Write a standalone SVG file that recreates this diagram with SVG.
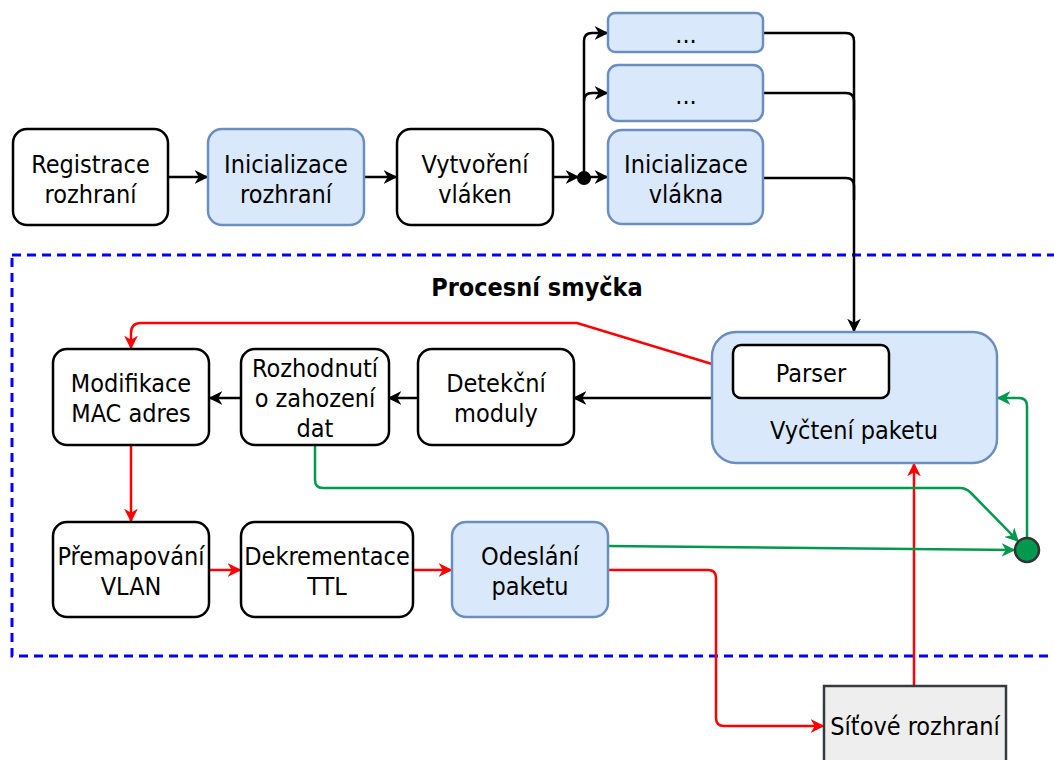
<svg xmlns="http://www.w3.org/2000/svg" width="1054" height="760" viewBox="0 0 1054 760">
  <defs>
    <style>
      text { font-family: "DejaVu Sans Condensed", "DejaVu Sans", sans-serif; font-stretch: condensed; font-size: 25px; fill: #000; text-anchor: middle; }
      .title { font-weight: bold; font-size: 25px; }
      .plain { fill: #ffffff; stroke: #000000; stroke-width: 2.5; }
      .blue { fill: #dae8fc; stroke: #6c8ebf; stroke-width: 2.5; }
      .iface { fill: #eeeeee; stroke: #36393d; stroke-width: 2.5; }
      .k { fill: none; stroke: #000000; stroke-width: 2.5; }
      .r { fill: none; stroke: #ff0000; stroke-width: 2.5; }
      .g { fill: none; stroke: #00994d; stroke-width: 2.5; }
    </style>
    <marker id="ak" viewBox="0 0 10 10" refX="9" refY="5" markerWidth="5.5" markerHeight="5.5" markerUnits="strokeWidth" orient="auto">
      <path d="M0,0 L10,5 L0,10 L3,5 Z" fill="#000000"/>
    </marker>
    <marker id="ar" viewBox="0 0 10 10" refX="9" refY="5" markerWidth="5.5" markerHeight="5.5" markerUnits="strokeWidth" orient="auto">
      <path d="M0,0 L10,5 L0,10 L3,5 Z" fill="#ff0000"/>
    </marker>
    <marker id="ag" viewBox="0 0 10 10" refX="9" refY="5" markerWidth="5.5" markerHeight="5.5" markerUnits="strokeWidth" orient="auto">
      <path d="M0,0 L10,5 L0,10 L3,5 Z" fill="#00994d"/>
    </marker>
  </defs>

  <rect width="1054" height="760" fill="#ffffff"/>

  <!-- processing loop frame -->
  <g id="loop-frame">
    <rect x="12" y="255" width="1060" height="401" fill="none" stroke="#0000ff" stroke-width="3" stroke-dasharray="9 6"/>
    <text class="title" x="537" y="296">Procesní smyčka</text>
  </g>

  <!-- connectors -->
  <g id="connectors">
    <!-- startup chain -->
    <path class="k" d="M168,177 L207,177" marker-end="url(#ak)"/>
    <path class="k" d="M364,177 L396,177" marker-end="url(#ak)"/>
    <path class="k" d="M553,177 L578,177" marker-end="url(#ak)"/>
    <path class="k" d="M584,177 L607,177" marker-end="url(#ak)"/>
    <path class="k" d="M584,177 L584,41 Q584,33 592,33 L607,33" marker-end="url(#ak)"/>
    <path class="k" d="M584,101 Q584,93 592,93 L607,93" marker-end="url(#ak)"/>
    <!-- threads into packet reading -->
    <path class="k" d="M763,33 L846,33 Q854,33 854,41 L854,331" marker-end="url(#ak)"/>
    <path class="k" d="M763,93 L846,93 Q854,93 854,101 L854,120"/>
    <path class="k" d="M763,178 L846,178 Q854,178 854,186 L854,200"/>
    <!-- loop body -->
    <path class="k" d="M712,398 L574,398" marker-end="url(#ak)"/>
    <path class="k" d="M418,398 L389,398" marker-end="url(#ak)"/>
    <path class="k" d="M241,398 L210,398" marker-end="url(#ak)"/>
    <path class="r" d="M712,364 L577,323 L141,323 Q131,323 131,333 L131,348" marker-end="url(#ar)"/>
    <path class="r" d="M131,445 L131,521" marker-end="url(#ar)"/>
    <path class="r" d="M209,570 L240,570" marker-end="url(#ar)"/>
    <path class="r" d="M413,570 L451,570" marker-end="url(#ar)"/>
    <path class="r" d="M608,570 L708,570 Q716,570 716,578 L716,718 Q716,726 724,726 L823,726" marker-end="url(#ar)"/>
    <path class="r" d="M914,686 L914,464" marker-end="url(#ar)"/>
    <path class="g" d="M315,445 L315,480 Q315,488 323,488 L960,488 Q966,488 971,493 L1018,541" marker-end="url(#ag)"/>
    <path class="g" d="M608,546 L1014,550" marker-end="url(#ag)"/>
    <path class="g" d="M1027,538 L1027,406 Q1027,398 1019,398 L998,398" marker-end="url(#ag)"/>
    <circle cx="584" cy="178" r="7" fill="#000000"/>
  </g>

  <g id="registrace-rozhrani">
    <rect class="plain" x="13" y="129" width="155" height="96" rx="14"/>
    <text x="90.5" y="173">Registrace</text>
    <text x="90.5" y="203">rozhraní</text>
  </g>
  <g id="inicializace-rozhrani">
    <rect class="blue" x="208" y="129" width="156" height="96" rx="14"/>
    <text x="286" y="173">Inicializace</text>
    <text x="286" y="203">rozhraní</text>
  </g>
  <g id="vytvoreni-vlaken">
    <rect class="plain" x="397" y="129" width="156" height="96" rx="14"/>
    <text x="475" y="173">Vytvoření</text>
    <text x="475" y="203">vláken</text>
  </g>
  <g id="vlakno-3">
    <rect class="blue" x="608" y="13" width="155" height="39" rx="7"/>
    <text x="686" y="43">...</text>
  </g>
  <g id="vlakno-2">
    <rect class="blue" x="608" y="65" width="155" height="56" rx="10"/>
    <text x="686" y="104">...</text>
  </g>
  <g id="inicializace-vlakna">
    <rect class="blue" x="608" y="130" width="155" height="94" rx="14"/>
    <text x="686" y="173">Inicializace</text>
    <text x="686" y="203">vlákna</text>
  </g>

  <g id="vycteni-paketu">
    <rect class="blue" x="712" y="332" width="285" height="131" rx="24"/>
    <text x="854" y="439">Vyčtení paketu</text>
  </g>
  <g id="parser">
    <rect class="plain" x="733" y="345" width="156" height="53" rx="8"/>
    <text x="811" y="382">Parser</text>
  </g>
  <g id="detekcni-moduly">
    <rect class="plain" x="418" y="349" width="156" height="96" rx="14"/>
    <text x="496" y="392">Detekční</text>
    <text x="496" y="422">moduly</text>
  </g>
  <g id="rozhodnuti">
    <rect class="plain" x="241" y="349" width="148" height="96" rx="14"/>
    <text x="315" y="377">Rozhodnutí</text>
    <text x="315" y="407">o zahození</text>
    <text x="315" y="437">dat</text>
  </g>
  <g id="modifikace-mac">
    <rect class="plain" x="53" y="349" width="156" height="96" rx="14"/>
    <text x="131" y="392">Modifikace</text>
    <text x="131" y="422">MAC adres</text>
  </g>
  <g id="premapovani-vlan">
    <rect class="plain" x="53" y="522" width="156" height="95" rx="14"/>
    <text x="131" y="565">Přemapování</text>
    <text x="131" y="595">VLAN</text>
  </g>
  <g id="dekrementace-ttl">
    <rect class="plain" x="241" y="522" width="172" height="95" rx="14"/>
    <text x="327" y="565">Dekrementace</text>
    <text x="327" y="595">TTL</text>
  </g>
  <g id="odeslani-paketu">
    <rect class="blue" x="452" y="522" width="156" height="95" rx="14"/>
    <text x="530" y="565">Odeslání</text>
    <text x="530" y="595">paketu</text>
  </g>

  <g id="sitove-rozhrani">
    <rect class="iface" x="824" y="686" width="182" height="90"/>
    <text x="915" y="735">Síťové rozhraní</text>
  </g>

  <g id="merge-point">
    <circle cx="1027" cy="550" r="12" fill="#00994d" stroke="#333333" stroke-width="2.5"/>
  </g>
</svg>
